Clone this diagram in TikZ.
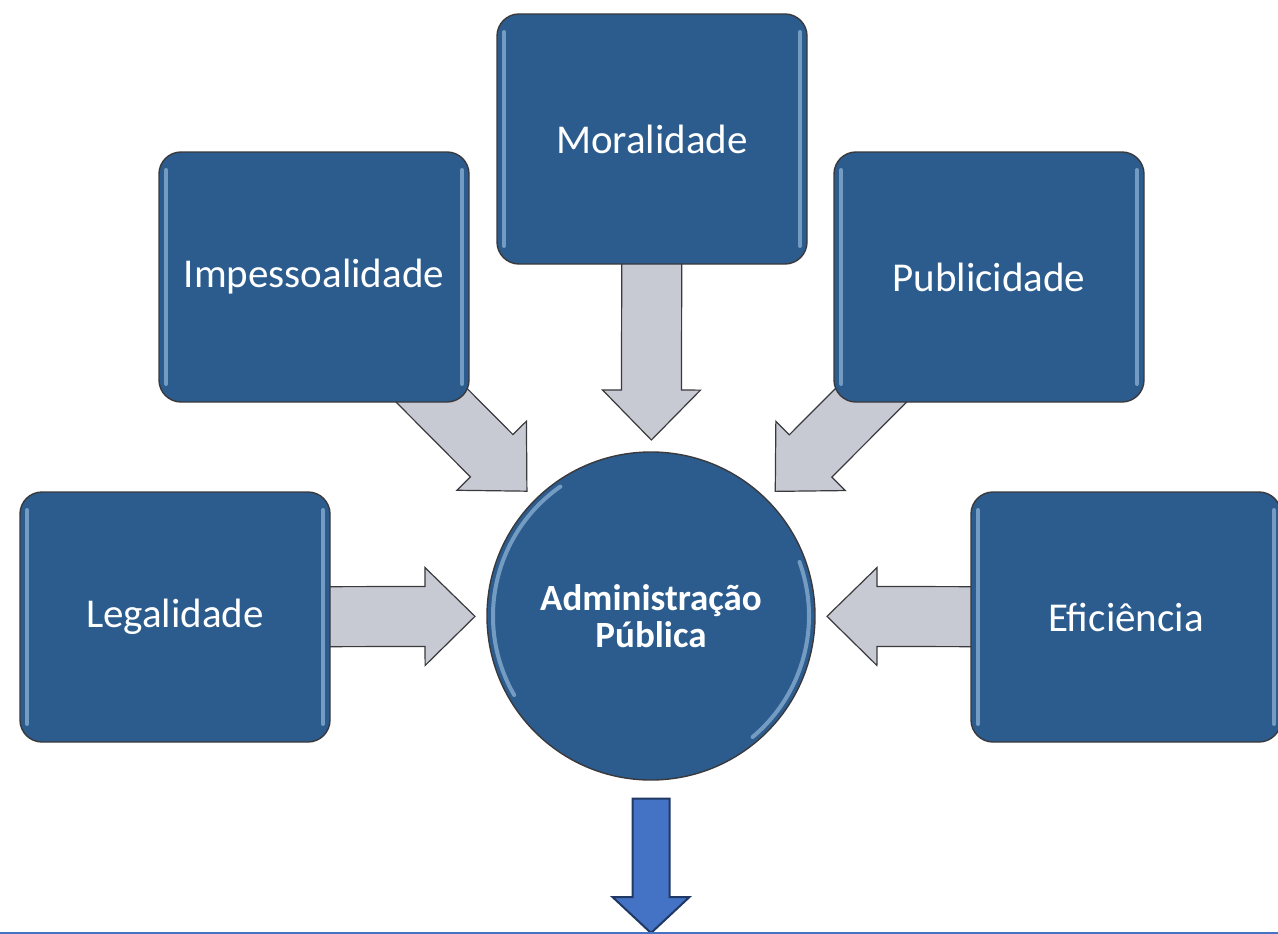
\documentclass[tikz,border=0pt]{standalone}
\usepackage{fontspec}
\setmainfont{Carlito}
\usetikzlibrary{calc,backgrounds}
\definecolor{boxBlue}{RGB}{43,92,141}
\definecolor{shine}{RGB}{165,200,232}
\definecolor{arrowGray}{RGB}{199,202,211}
\definecolor{arrowEdge}{RGB}{58,58,62}
\definecolor{outBlue}{RGB}{68,114,196}
\definecolor{outEdge}{RGB}{31,56,100}
% block arrow: style, start, tip, shaft half width, head half width, head length
\newcommand{\blockarrow}[6]{%
  \path ($(#3)!#6!(#2)$) coordinate (hb);
  \draw[#1] ($(#2)!#4!90:(#3)$) -- ($(hb)!#4!90:(#3)$) -- ($(hb)!#5!90:(#3)$) -- (#3)
    -- ($(hb)!#5!-90:(#3)$) -- ($(hb)!#4!-90:(#3)$) -- ($(#2)!#4!-90:(#3)$) -- cycle;
}

\begin{document}
\begin{tikzpicture}
[x=1pt,y=-1pt,
  shineDecorate/.style={sharp corners,draw=shine,line width=4pt,line cap=round,opacity=0.6},
  boxDecorate/.style={shape=rectangle,rounded corners=22pt,minimum width=310pt,
    minimum height=250pt,fill=boxBlue,draw=arrowEdge,line width=1.4pt,text=white,
    font=\fontsize{41}{44}\selectfont,
    path picture={
      \draw[shineDecorate] ([xshift=7pt,yshift=-18pt]path picture bounding box.north west)
        -- ([xshift=7pt,yshift=18pt]path picture bounding box.south west);
      \draw[shineDecorate] ([xshift=-7pt,yshift=-18pt]path picture bounding box.north east)
        -- ([xshift=-7pt,yshift=18pt]path picture bounding box.south east);}},
  circleDecorate/.style={shape=circle,minimum size=328pt,inner sep=0pt,fill=boxBlue,
    draw=arrowEdge,line width=1.4pt,text=white,align=center,
    font=\bfseries\fontsize{37}{37}\selectfont,
    path picture={
      \draw[shineDecorate] ($(path picture bounding box.center)+(125:158pt)$)
        arc[start angle=125,end angle=210,radius=158pt];
      \draw[shineDecorate] ($(path picture bounding box.center)+(-50:158pt)$)
        arc[start angle=-50,end angle=20,radius=158pt];}},
  arrowDecorate/.style={fill=arrowGray,draw=arrowEdge,line width=1.2pt,line join=miter},
  outDecorate/.style={fill=outBlue,draw=outEdge,line width=2pt,line join=miter},
  lineDecorate/.style={draw=outBlue,line width=2pt}]
\useasboundingbox (0,0) rectangle (1278,934);
%% centre
\node (adm) at (651,616) [circleDecorate] {Administração\\Pública};
%% principles
\foreach \nodename/\x/\y/\txt in {
  mor/652/139/Moralidade,
  imp/314/277/Impessoalidade,
  pub/989/277/Publicidade,
  leg/175/617/Legalidade,
  efi/1126/617/Eficiência}
{
  \node (\nodename) at (\x,\y) [boxDecorate] {\txt};
}
%% arrows into the centre
\begin{pgfonlayer}{background}
\foreach \startnode in {leg,imp,mor,pub,efi}
{
  \coordinate (tip) at ($(adm.center)!176pt!(\startnode.center)$);
  \blockarrow{arrowDecorate}{\startnode.center}{tip}{30pt}{49pt}{50pt}
}
\end{pgfonlayer}
%% arrow out
\coordinate (outStart) at ($(adm.south)+(0,18)$);
\coordinate (outEnd) at (651,933);
\blockarrow{outDecorate}{outStart}{outEnd}{18.5pt}{38.5pt}{36pt}
\draw[lineDecorate] (0,933) -- (1278,933);
\end{tikzpicture}
\end{document}
